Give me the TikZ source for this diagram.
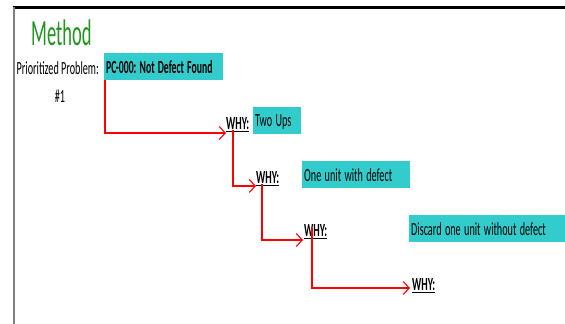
\documentclass[tikz,border=0pt]{standalone}
\usepackage{fontspec}
\usepackage{graphicx}
\setmainfont{Carlito}
\frenchspacing
\usetikzlibrary{arrows.meta}
\definecolor{boxcyan}{RGB}{51,204,204}
\definecolor{titlegreen}{RGB}{30,150,30}
\newcommand{\cond}[2][0.55]{\scalebox{#1}[1]{#2}}

\begin{document}
\begin{tikzpicture}[x=1pt,y=-1pt,
    txt/.style={inner sep=0pt,font=\fontsize{18.5}{20}\selectfont},
    cause/.style={txt,fill=boxcyan,anchor=north west,minimum height=27pt,text depth=0pt,inner xsep=2pt,align=left},
    whytag/.style={txt,anchor=south west,font=\fontsize{18.5}{20}\selectfont\bfseries},
    link/.style={red,line width=1.1pt,-{Straight Barb[length=6pt,width=13pt,line width=1.1pt]}}]
            \useasboundingbox (0,0) rectangle (565,324);
            \draw[line width=2.5pt] (13,7.5) -- (565,7.5);
            \draw[gray,line width=2pt] (14,7) -- (14,324);

            \node[txt,anchor=west,text=titlegreen,font=\fontsize{37}{39}\selectfont] (title) at (31,33) {\cond[0.5]{Method}};
            \node[txt,anchor=east] (problabel) at (99,68) {\cond{Prioritized Problem:}};
            \node[txt] (num) at (60,96) {\cond{\#1}};

            \node[cause,minimum width=119pt,font=\fontsize{18.5}{20}\selectfont\bfseries,text width=115pt] (problem) at (104,53) {\cond[0.525]{PC-000: Not Defect Found}};
            \node[whytag] (why1) at (226,132) {\cond{\underline{WHY:}}};
            \node[cause,minimum width=48pt,text width=44pt] (cause1) at (253,107) {\cond{Two Ups}};
            \node[whytag] (why2) at (256,186) {\cond{\underline{WHY:}}};
            \node[cause,minimum width=108pt,text width=104pt] (cause2) at (302,161) {\cond{One unit with defect}};
            \node[whytag] (why3) at (304,239) {\cond{\underline{WHY:}}};
            \node[cause,minimum width=156pt,text width=152pt] (cause3) at (409,215) {\cond{Discard one unit without defect}};
            \node[whytag] (why4) at (412,293) {\cond{\underline{WHY:}}};

            \draw[link] ([xshift=1pt]problem.south west) |- ([yshift=-1pt]why1.south west);
            \draw[link] ([xshift=7pt,yshift=2pt]why1.south west) |- (why2.south west);
            \draw[link] ([xshift=6pt,yshift=2pt]why2.south west) |- ([xshift=-1pt,yshift=-1pt]why3.south west);
            \draw[link] ([xshift=8pt,yshift=11pt]why3.south west) |- ([xshift=-2pt,yshift=5pt]why4.south west);
        \end{tikzpicture}
\end{document}
